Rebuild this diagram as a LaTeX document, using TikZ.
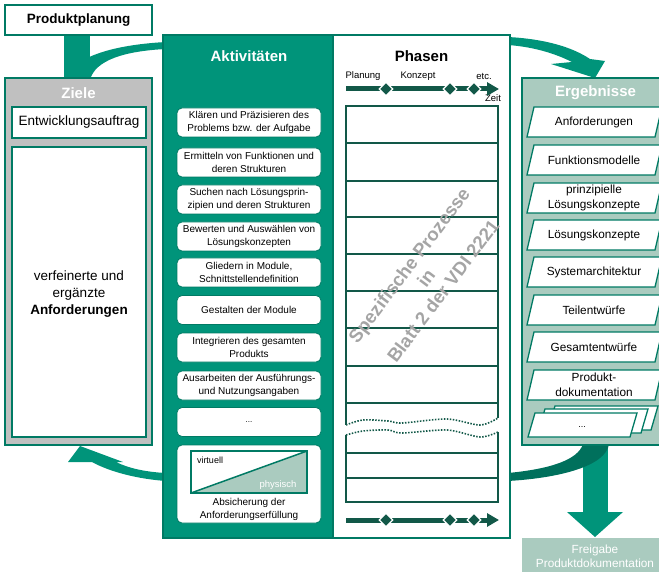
\documentclass[tikz,border=0pt]{standalone}
\usepackage{fontspec}
\setmainfont{Liberation Sans}
\usetikzlibrary{shapes.geometric,arrows.meta}
\definecolor{vdiTeal}{RGB}{0,148,122}
\definecolor{vdiBorder}{RGB}{0,122,100}
\definecolor{vdiDark}{RGB}{18,88,72}
\definecolor{vdiDeep}{RGB}{0,112,92}
\definecolor{vdiLight}{RGB}{170,203,191}
\definecolor{vdiGray}{RGB}{192,192,192}
\definecolor{vdiMark}{RGB}{165,165,165}
% parallelogram frame of one result, top edge at #1
\newcommand\ergframe[1]{\draw[ergshape] (527,#1+30) -- (534,#1) -- (662,#1) -- (655,#1+30) -- cycle;}
\begin{document}
\begin{tikzpicture}[x=1pt,y=-1pt,
  every node/.style={inner sep=0pt,outer sep=0pt},
  panel/.style={draw=vdiBorder,line width=1.4pt},
  paneltitle/.style={text=white,font=\fontsize{15}{18}\selectfont\bfseries},
  actbox/.style={draw=vdiBorder,line width=0.8pt,fill=white,rounded corners=5pt,minimum width=144pt,minimum height=29pt},
  acttext/.style={align=center,font=\fontsize{10}{13}\selectfont},
  ergshape/.style={draw=vdiBorder,line width=1.3pt,fill=white},
  ergtext/.style={align=center,font=\fontsize{11.8}{14.5}\selectfont},
  gridline/.style={vdiDark,line width=1.8pt},
  breakline/.style={vdiDark,line width=1.6pt,dash pattern=on 1.5pt off 1.5pt},
  timeline/.style={vdiDark,line width=5pt,-{Triangle[length=12pt,width=13pt]}},
  milestone/.style={diamond,fill=vdiDark,draw=white,line width=1.2pt,minimum width=13.5pt,minimum height=13.5pt},
  smalltext/.style={font=\fontsize{9.5}{11}\selectfont},
  flow/.style={fill=vdiTeal},
]
\useasboundingbox (0,0) rectangle (659,572);
\clip (0,0) rectangle (659,572);

% ---------- flow bands behind the panels
\fill[flow] (64,30) rectangle (90,80);
\fill[flow] (64,80) .. controls (72,58) and (110,45) .. (166,42) -- (166,49) .. controls (125,51) and (95,60) .. (90,80) -- cycle;
\fill[flow] (508,37) .. controls (545,39) and (572,47) .. (590,59) -- (605,61) -- (595,78) -- (551,64) -- (572,62) .. controls (556,54) and (535,47) .. (508,45) -- cycle;
\fill[flow] (166,473) .. controls (145,472) and (128,468) .. (116,462) -- (123,462) -- (80,446) -- (68,462) -- (92,462) .. controls (110,472) and (138,479) .. (166,481) -- cycle;
\fill[flow] (583,440) rectangle (608,513);
\fill[flow] (567,512) -- (623,512) -- (595,537) -- cycle;
\fill[vdiDeep] (508,473) .. controls (550,469) and (578,460) .. (583,444) -- (609,444) .. controls (606,466) and (560,478) .. (508,481) -- cycle;

% ---------- Produktplanung and Ziele
\node[panel,fill=white,minimum width=147pt,minimum height=30pt,anchor=north west,
      font=\fontsize{13.5}{16}\selectfont\bfseries] (plan) at (5,5) {Produktplanung};
\node[panel,fill=vdiGray,minimum width=147pt,minimum height=367pt,anchor=north west] (ziele) at (5,78) {};
\node[paneltitle] (zieleT) at (78.5,93) {Ziele};
\node[panel,fill=white,minimum width=134pt,minimum height=31pt,anchor=north west,
      font=\fontsize{13.5}{16}\selectfont] (auftrag) at (12,107) {Entwicklungsauftrag};
\node[panel,fill=white,minimum width=134pt,minimum height=290pt,anchor=north west] (anfbox) at (12,147) {};
\node[align=center,font=\fontsize{13.5}{17}\selectfont] (anf) at (79,294) {verfeinerte und\\ergänzte\\\textbf{Anforderungen}};

% ---------- Aktivitäten
\node[panel,fill=vdiTeal,minimum width=170pt,minimum height=503pt,anchor=north west] (akt) at (163,35) {};
\node[paneltitle] (aktT) at (249,56) {Aktivitäten};
\node[actbox] (a1) at (249,122.5) {};
\node[acttext] (a1t) at (a1) {Klären und Präzisieren des\\Problems bzw. der Aufgabe};
\node[actbox] (a2) at (249,162.5) {};
\node[acttext] (a2t) at (a2) {Ermitteln von Funktionen und\\deren Strukturen};
\node[actbox] (a3) at (249,199.5) {};
\node[acttext] (a3t) at (a3) {Suchen nach Lösungsprin-\\zipien und deren Strukturen};
\node[actbox] (a4) at (249,236.5) {};
\node[acttext] (a4t) at (a4) {Bewerten und Auswählen von\\Lösungskonzepten};
\node[actbox] (a5) at (249,272.5) {};
\node[acttext] (a5t) at (a5) {Gliedern in Module,\\Schnittstellendefinition};
\node[actbox] (a6) at (249,310) {};
\node[acttext] (a6t) at (a6) {Gestalten der Module};
\node[actbox] (a7) at (249,347.5) {};
\node[acttext] (a7t) at (a7) {Integrieren des gesamten\\Produkts};
\node[actbox] (a8) at (249,385.5) {};
\node[acttext] (a8t) at (a8) {Ausarbeiten der Ausführungs-\\und Nutzungsangaben};
\node[actbox] (a9) at (249,422) {};
\node[font=\fontsize{8}{10}\selectfont] (a9t) at (249,422) {...};
\node[actbox,minimum height=78pt] (a10) at (249,484) {};
\fill[vdiLight] (191,493) -- (307,451) -- (307,493) -- cycle;
\node[draw=vdiBorder,line width=1.5pt,minimum width=116pt,minimum height=42pt] (vp) at (249,472) {};
\draw[vdiBorder,line width=1.5pt] (vp.south west) -- (vp.north east);
\node[font=\fontsize{9}{11}\selectfont,anchor=west] (virt) at (197,460) {virtuell};
\node[font=\fontsize{9.5}{11}\selectfont,text=white] (phys) at (278,485) {physisch};
\node[acttext] (absi) at (249,509) {Absicherung der\\Anforderungserfüllung};

% ---------- Phasen
\node[panel,fill=white,minimum width=177pt,minimum height=503pt,anchor=north west] (phasen) at (333,35) {};
\node[font=\fontsize{15}{18}\selectfont\bfseries] (phasenT) at (421.5,56) {Phasen};
\node[smalltext] (lplan) at (363,76) {Planung};
\node[smalltext] (lkonz) at (418,76) {Konzept};
\node[smalltext] (letc) at (484,76) {etc.};
\node[smalltext] (lzeit) at (493,98) {Zeit};
\coordinate (t1s) at (346,89);
\coordinate (t1e) at (499,89);
\draw[timeline] (t1s) -- (t1e);
\node[milestone] (d1) at (386,89) {};
\node[milestone] (d2) at (450,89) {};
\node[milestone] (d3) at (474,89) {};

% phase table with a break
\foreach \y in {106,143,181,217,254,291,328,366,403,453,478,502}
  \draw[gridline,line cap=rect] (346,\y) -- (498,\y);
\draw[gridline] (346,106) -- (346,425);
\draw[gridline] (346,435) -- (346,502);
\draw[gridline] (498,106) -- (498,418);
\draw[gridline] (498,432) -- (498,502);
\draw[breakline] plot[smooth] coordinates {(346,425) (363,420) (388,421) (402,423) (447,419) (480,425) (498,418)};
\draw[breakline] plot[smooth] coordinates {(346,435) (363,431) (388,430) (402,433) (447,430) (480,437) (498,432)};

\node[rotate=53,align=center,text=vdiMark,font=\fontsize{18.5}{21.3}\selectfont\bfseries] (spez) at (426,278)
  {Spezifische Prozesse\\in\\Blatt 2 der VDI 2221};

\coordinate (t2s) at (346,520);
\coordinate (t2e) at (499,520);
\draw[timeline] (t2s) -- (t2e);
\node[milestone] (e1) at (386,520) {};
\node[milestone] (e2) at (450,520) {};
\node[milestone] (e3) at (474,520) {};

% ---------- Ergebnisse
\node[panel,fill=vdiLight,minimum width=150pt,minimum height=367pt,anchor=north west] (erg) at (522,78) {};
\node[paneltitle] (ergT) at (595.5,93) {Ergebnisse};
\ergframe{107}
\node[ergtext] (r1) at (594,122) {Anforderungen};
\ergframe{145}
\node[ergtext] (r2) at (594,160) {Funktionsmodelle};
\ergframe{183}
\node[ergtext] (r3) at (594,198) {prinzipielle\\Lösungskonzepte};
\ergframe{220}
\node[ergtext] (r4) at (594,235) {Lösungskonzepte};
\ergframe{257}
\node[ergtext] (r5) at (594,272) {Systemarchitektur};
\ergframe{295}
\node[ergtext] (r6) at (594,310) {Teilentwürfe};
\ergframe{332}
\node[ergtext] (r7) at (594,347) {Gesamtentwürfe};
\ergframe{370}
\node[ergtext] (r8) at (594,385) {Produkt-\\dokumentation};
\draw[ergshape] (548,430) -- (555,406) -- (658,406) -- (651,430) -- cycle;
\draw[ergshape] (538,433) -- (545,409) -- (648,409) -- (641,433) -- cycle;
\draw[ergshape] (528,437) -- (535,413) -- (637,413) -- (630,437) -- cycle;
\node[font=\fontsize{9}{11}\selectfont] (r9) at (582,427) {...};

% ---------- Freigabe
\node[fill=vdiLight,minimum width=150pt,minimum height=40pt,anchor=north west] (frei) at (522,538) {};
\node[text=white,align=center,font=\fontsize{11.8}{14}\selectfont] (freiT) at (595,556) {Freigabe\\Produktdokumentation};
\end{tikzpicture}
\end{document}
